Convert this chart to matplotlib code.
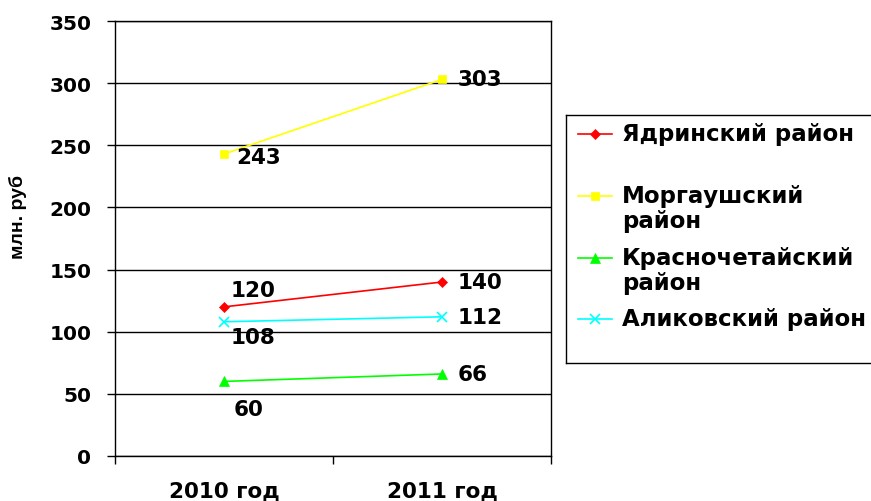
import matplotlib
matplotlib.use("Agg")
import matplotlib.pyplot as plt
from matplotlib.lines import Line2D

plt.rcParams['font.family'] = ['DejaVu Sans']
plt.rcParams['font.weight'] = 'bold'

categories = ["2010 год", "2011 год"]
series_names = ["Ядринский район", "Моргаушский\nрайон", "Красночетайский\nрайон", "Аликовский район"]
yadrin = [120, 140]
morgaush = [243, 303]
krasnochet = [60, 66]
alikov = [108, 112]
yticks = [0, 50, 100, 150, 200, 250, 300, 350]

W, H = 871, 502
fig = plt.figure(figsize=(W / 100, H / 100), dpi=100)
ax = fig.add_axes([115 / W, 1 - 457 / H, (551 - 115) / W, (457 - 22) / H])

x = list(range(len(categories)))
styles = [
    (yadrin, '#FF0000', 'D', 5),
    (morgaush, '#FFFF00', 's', 6),
    (krasnochet, '#00FF00', '^', 7),
    (alikov, '#00FFFF', 'x', 7),
]
for vals, c, m, ms in styles:
    ax.plot(x, vals, color=c, marker=m, markersize=ms, linewidth=1.2,
            markeredgewidth=1.2 if m == 'x' else 0.5, zorder=3, clip_on=False)

fs = 15.5
# data labels for 2010
ax.annotate(str(morgaush[0]), (0, morgaush[0]), xytext=(9, -2), textcoords='offset points',
            ha='left', va='center', fontsize=fs, fontweight='bold')
ax.annotate(str(yadrin[0]), (0, yadrin[0]), xytext=(5, 12), textcoords='offset points',
            ha='left', va='center', fontsize=fs, fontweight='bold')
ax.annotate(str(alikov[0]), (0, alikov[0]), xytext=(5, -11), textcoords='offset points',
            ha='left', va='center', fontsize=fs, fontweight='bold')
ax.annotate(str(krasnochet[0]), (0, krasnochet[0]), xytext=(7, -20), textcoords='offset points',
            ha='left', va='center', fontsize=fs, fontweight='bold')
# data labels for 2011
for vals in (morgaush, yadrin, alikov, krasnochet):
    ax.annotate(str(vals[1]), (1, vals[1]), xytext=(11, 0), textcoords='offset points',
                ha='left', va='center', fontsize=fs, fontweight='bold')

ax.set_xlim(-0.5, 1.5)
ax.set_ylim(0, 350)
ax.set_yticks(yticks)
ax.set_yticklabels([str(v) for v in yticks], fontsize=14.5, fontweight='bold')
ax.tick_params(axis='y', direction='out', length=6, width=1, pad=11)
ax.set_xticks([-0.5, 0.5, 1.5])
ax.set_xticklabels([])
ax.tick_params(axis='x', direction='out', length=6, width=1)
ax.set_xticks(x, minor=True)
ax.set_xticklabels(categories, minor=True, fontsize=fs, fontweight='bold')
ax.tick_params(axis='x', which='minor', length=0, pad=18)
ax.grid(axis='y', color='black', linewidth=1)
ax.set_axisbelow(True)
for s in ax.spines.values():
    s.set_color('black')
    s.set_linewidth(1)

fig.text(18 / W, 1 - 217 / H, "млн. руб", rotation=90, ha='center', va='center',
         fontsize=14, fontweight='bold', family=['Liberation Sans', 'DejaVu Sans'])

# legend box
lax = fig.add_axes([566 / W, 1 - 364 / H, (878 - 566) / W, (364 - 116) / H])
lax.set_xlim(566, 878)
lax.set_ylim(364, 116)
lax.set_xticks([])
lax.set_yticks([])
for s in lax.spines.values():
    s.set_color('black')
    s.set_linewidth(1)
entries = [
    (series_names[0], '#FF0000', 'D', 5, 135),
    (series_names[1], '#FFFF00', 's', 6, 197),
    (series_names[2], '#00FF00', '^', 7, 259),
    (series_names[3], '#00FFFF', 'x', 7, 320),
]
for label, c, m, ms, yy in entries:
    lax.add_line(Line2D([578, 612], [yy, yy], color=c, linewidth=1.2))
    lax.add_line(Line2D([595], [yy], color=c, marker=m, markersize=ms,
                        markeredgewidth=1.2 if m == 'x' else 0.5))
    lax.text(622, yy - 12, label, ha='left', va='top', fontsize=16.5, fontweight='bold',
             linespacing=1.1)

fig.savefig("out.png", dpi=100)
